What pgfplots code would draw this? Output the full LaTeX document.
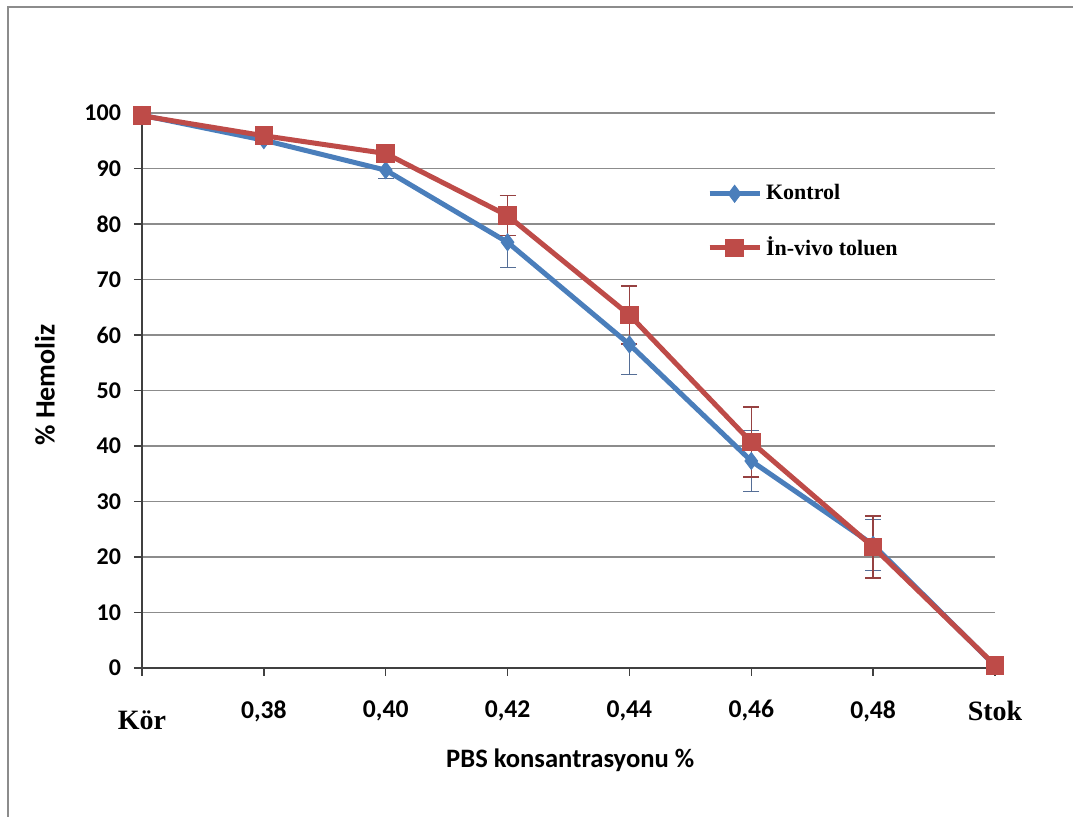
\documentclass[border=0pt]{standalone}
\usepackage{fontspec}
\setmainfont{Liberation Serif}
\newfontfamily\carlito{Carlito}
\usepackage{pgfplots}
\pgfplotsset{compat=1.18}
\definecolor{kblue}{RGB}{74,126,187}
\definecolor{kred}{RGB}{190,75,72}
\definecolor{kblueerr}{RGB}{85,110,150}
\definecolor{krederr}{RGB}{150,65,65}
\begin{document}
\begin{tikzpicture}[x=1pt,y=1pt]
\path[use as bounding box] (0,0) rectangle (536.5,408.5);
\begin{axis}[
  at={(71pt,74.5pt)}, anchor=south west,
  scale only axis, width=426.5pt, height=277.5pt,
  xmin=0, xmax=7, ymin=0, ymax=100,
  axis x line=bottom, axis y line=left,
  axis line style={draw=black!75, line width=0.8pt, -},
  xtick={0,...,7},
  xticklabels={{\bfseries\fontsize{14}{16}\selectfont\raisebox{-4.5pt}[\height][\depth]{Kör}},{\carlito\bfseries 0,38},{\carlito\bfseries 0,40},{\carlito\bfseries 0,42},{\carlito\bfseries 0,44},{\carlito\bfseries 0,46},{\carlito\bfseries 0,48},{\bfseries\fontsize{14}{16}\selectfont Stok}},
  ytick={0,10,...,100},
  tick align=outside,
  major tick length=4pt,
  tick style={draw=black!75, line width=0.7pt},
  /pgf/number format/assume math mode=true,
  yticklabel style={font=\carlito\bfseries\fontsize{12}{14}\selectfont, xshift=-3pt},
  xticklabel style={font=\fontsize{12.8}{14}\selectfont, anchor=center, yshift=-17.5pt},
  ymajorgrids,
  grid style={draw=black!45, line width=0.8pt},
  every axis x label/.style={at={(rel axis cs:0.502,0)}, yshift=-46pt, anchor=center},
  every axis y label/.style={at={(rel axis cs:0,0.51)}, xshift=-48.5pt, rotate=90, anchor=center},
  xlabel={\carlito\bfseries\fontsize{13.3}{15}\selectfont PBS konsantrasyonu \%},
  ylabel={\carlito\bfseries\fontsize{14}{16}\selectfont \% Hemoliz},
  legend style={draw=none, fill=none, at={(rel axis cs:0.655,0.886)}, anchor=north west,
    font=\bfseries\fontsize{11}{13}\selectfont, row sep=13pt},
  legend cell align=left,
  legend image code/.code={\draw[mark repeat=2,mark phase=2,#1] plot coordinates {(0pt,0pt) (12.5pt,0pt) (25pt,0pt)};},
  clip=false,
]
\addplot[kblue, line width=2.5pt, mark=diamond*, mark size=4.2pt, mark options={solid, line width=0.5pt, fill=kblue},
  error bars/.cd, y dir=both, y explicit,
  error bar style={draw=kblueerr, line width=0.7pt},
  error mark options={rotate=90, mark size=4pt, draw=kblueerr, line width=0.7pt}]
  coordinates {
  (0,99.6) +- (0,0)
  (1,95.1) +- (0,0.8)
  (2,89.7) +- (0,1.5)
  (3,76.7) +- (0,4.5)
  (4,58.3) +- (0,5.4)
  (5,37.3) +- (0,5.5)
  (6,22.2) +- (0,4.6)
  (7,0.4) +- (0,0)
  };
\addlegendentry{Kontrol}
\addplot[kred, line width=2.5pt, mark=square*, mark size=4.4pt, mark options={solid, line width=0.5pt, fill=kred},
  error bars/.cd, y dir=both, y explicit,
  error bar style={draw=krederr, line width=0.7pt},
  error mark options={rotate=90, mark size=4pt, draw=krederr, line width=0.7pt}]
  coordinates {
  (0,99.5) +- (0,0)
  (1,95.9) +- (0,0.5)
  (2,92.7) +- (0,0.5)
  (3,81.5) +- (0,3.6)
  (4,63.6) +- (0,5.2)
  (5,40.7) +- (0,6.3)
  (6,21.8) +- (0,5.6)
  (7,0.5) +- (0,0)
  };
\addlegendentry{İn-vivo toluen}
\end{axis}
\draw[black!45, line width=1pt] (4,0) -- (4,405) -- (536.5,405);
\end{tikzpicture}
\end{document}
